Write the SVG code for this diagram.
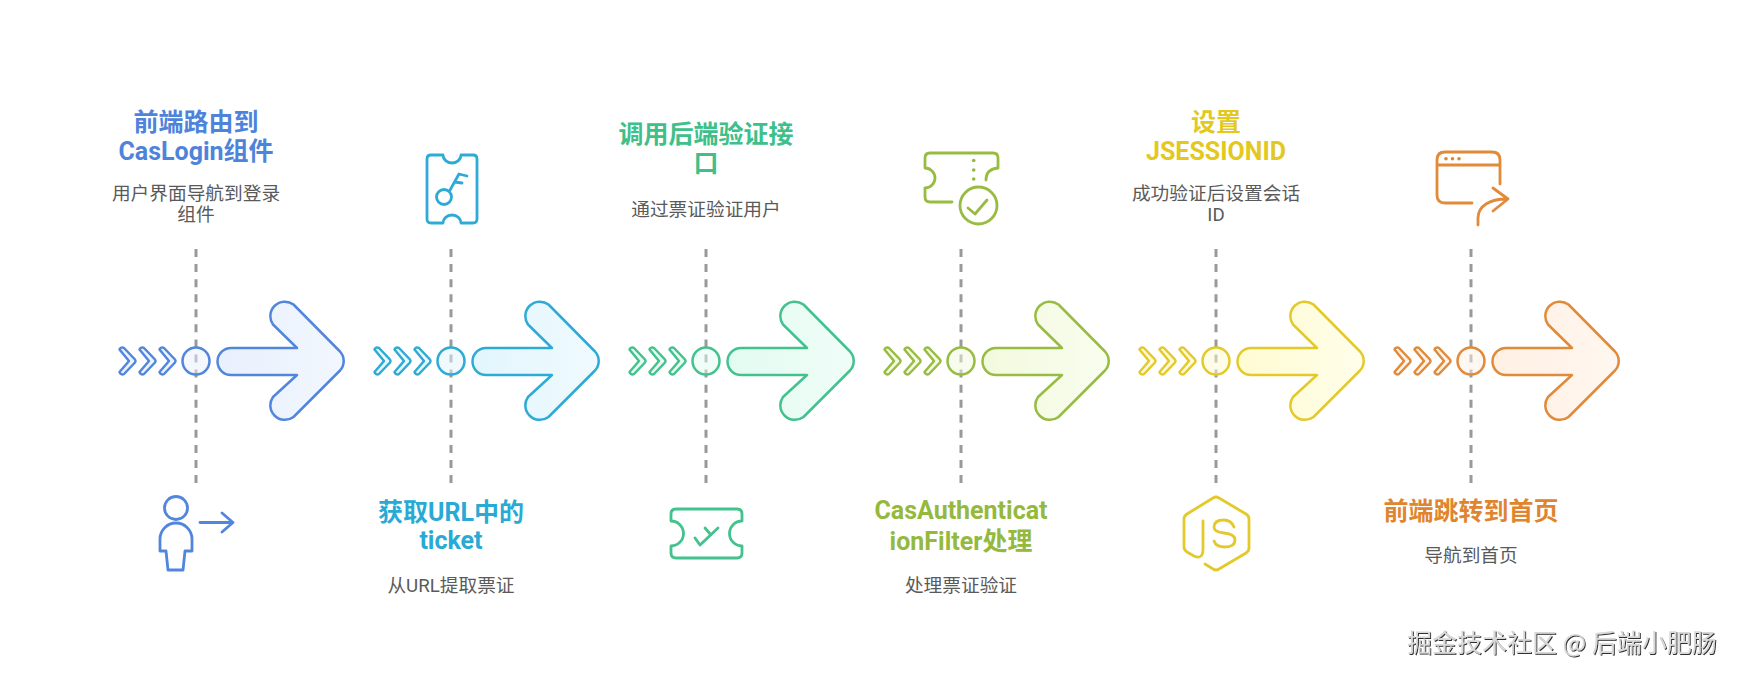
<svg xmlns="http://www.w3.org/2000/svg" width="1738" height="678" viewBox="0 0 1738 678">
<style>
text{text-anchor:middle;font-family:Roboto,"Noto Sans CJK SC",sans-serif}
.t{font-size:25px;font-weight:700}
.d{font-size:18.7px;fill:#5a5a5a}
.dash{stroke:#999;stroke-width:3;stroke-dasharray:8 7.07;fill:none}
.s{fill:none;stroke-width:2.8;stroke-linecap:round;stroke-linejoin:round}
.m{stroke-width:2.5;stroke-linejoin:round}
.wm{font-size:25px;fill:#d8d8d8;filter:url(#em);text-anchor:start;font-family:"Noto Sans CJK SC",sans-serif}
.c1{stroke:#5286dd}.f1{fill:#4e83dc}
.c2{stroke:#2dabd6}.f2{fill:#29aad4}
.c3{stroke:#43c28e}.f3{fill:#3dc08a}
.c4{stroke:#98bc42}.f4{fill:#94b93c}
.c5{stroke:#e3ca2a}.f5{fill:#e3c81e}
.c6{stroke:#e08a3a}.f6{fill:#e0852f}
</style>
<defs>
<filter id="em" x="-5%" y="-20%" width="110%" height="140%"><feDropShadow dx="1" dy="1" stdDeviation="0.5" flood-color="#2e2e2e"/></filter>
<linearGradient id="g1"><stop offset="0" stop-color="#e9f0fd"/><stop offset="1" stop-color="#f2f7fe"/></linearGradient>
<linearGradient id="g2"><stop offset="0" stop-color="#e2f6fd"/><stop offset="1" stop-color="#effafe"/></linearGradient>
<linearGradient id="g3"><stop offset="0" stop-color="#e2fbf1"/><stop offset="1" stop-color="#f0fdf8"/></linearGradient>
<linearGradient id="g4"><stop offset="0" stop-color="#f2fadd"/><stop offset="1" stop-color="#f9fdef"/></linearGradient>
<linearGradient id="g5"><stop offset="0" stop-color="#fffbd2"/><stop offset="1" stop-color="#fffeea"/></linearGradient>
<linearGradient id="g6"><stop offset="0" stop-color="#fff0e3"/><stop offset="1" stop-color="#fff7f0"/></linearGradient>
<path id="arrow" d="M231 348H297L273 324.500A14.500 14.500 0 0 1 293.500 304.500L340 351.500A14 14 0 0 1 340 370.500L293.500 417A14.500 14.500 0 0 1 273 397L297 375H231A13.500 13.500 0 0 1 231 348Z"/>
<path id="chev" d="M119.500 349.500A3 3 0 0 1 124 348L135 359.500A2.500 2.500 0 0 1 135 362.500L124 374A3 3 0 0 1 119.500 372L129 361Z"/>
<g id="mark">
<use href="#chev"/><use href="#chev" x="20"/><use href="#chev" x="40"/>
</g>
</defs>
<rect width="1738" height="678" fill="#ffffff"/>
<g id="connectors">
<path class="dash" d="M196 249V483"/>
<path class="dash" d="M451 249V483"/>
<path class="dash" d="M706 249V483"/>
<path class="dash" d="M961 249V483"/>
<path class="dash" d="M1216 249V483"/>
<path class="dash" d="M1471 249V483"/>
</g>

<g id="node-1">
<g class="m c1"><use href="#mark" fill="#edf3fd"/><circle cx="196" cy="361" r="13.500" fill="#e9f0fd" fill-opacity=".5"/><use href="#arrow" fill="url(#g1)"/></g>
<text class="t f1" x="196" y="131">前端路由到</text>
<text class="t f1" x="196" y="160">CasLogin组件</text>
<text class="d" x="196" y="199.500">用户界面导航到登录</text>
<text class="d" x="196" y="221">组件</text>
<g class="s c1"><circle cx="176" cy="508" r="11.500"/><path d="M168 570H183L185 551H192V539A16 16 0 0 0 160 539V551H166Z"/><path d="M200 522.500H233M222 513L233 522.500L222 532"/></g>
</g>

<g id="node-2">
<g transform="translate(255 0)" class="m c2"><use href="#mark" fill="#e8f8fd"/><circle cx="196" cy="361" r="13.500" fill="#e2f6fd" fill-opacity=".5"/><use href="#arrow" fill="url(#g2)"/></g>
<g class="s c2"><path d="M431 155H443A9 8 0 0 0 461 155H473Q477 155 477 159V219Q477 223 473 223H461A9 8 0 0 0 443 223H431Q427 223 427 219V159Q427 155 431 155Z"/><circle cx="444" cy="197" r="7.500"/><path d="M449.500 191L459 174L467 176M454.500 182L462 183"/></g>
<text class="t f2" x="451" y="521">获取URL中的</text>
<text class="t f2" x="451" y="549">ticket</text>
<text class="d" x="451" y="592">从URL提取票证</text>
</g>

<g id="node-3">
<g transform="translate(510 0)" class="m c3"><use href="#mark" fill="#e8fbf3"/><circle cx="196" cy="361" r="13.500" fill="#e2fbf1" fill-opacity=".5"/><use href="#arrow" fill="url(#g3)"/></g>
<text class="t f3" x="706" y="143">调用后端验证接</text>
<text class="t f3" x="706" y="172">口</text>
<text class="d" x="706" y="216">通过票证验证用户</text>
<g class="s c3"><path d="M676 509H737Q742 509 742 514V521A12.500 12.500 0 0 0 742 546V553Q742 558 737 558H676Q671 558 671 553V546A12.500 12.500 0 0 0 671 521V514Q671 509 676 509Z"/><path d="M695 538L700 545L718 528M705 528L711 535"/></g>
</g>

<g id="node-4">
<g transform="translate(765 0)" class="m c4"><use href="#mark" fill="#f4fae2"/><circle cx="196" cy="361" r="13.500" fill="#f2fadd" fill-opacity=".5"/><use href="#arrow" fill="url(#g4)"/></g>
<g class="s c4"><path d="M952 202H930Q925 202 925 197V188A10 10 0 0 0 925 168V158Q925 153 930 153H993Q998 153 998 158V168Q986 169 986 180"/><circle cx="978.500" cy="205.500" r="18.500"/><path d="M968 208L975 214L987 200"/></g>
<g class="f4"><circle cx="973.700" cy="160.500" r="1.800"/><circle cx="973.700" cy="170" r="1.800"/><circle cx="973.700" cy="179" r="1.800"/></g>
<text class="t f4" x="961" y="519">CasAuthenticat</text>
<text class="t f4" x="961" y="550">ionFilter处理</text>
<text class="d" x="961" y="592">处理票证验证</text>
</g>

<g id="node-5">
<g transform="translate(1020 0)" class="m c5"><use href="#mark" fill="#fffbd8"/><circle cx="196" cy="361" r="13.500" fill="#fffbd2" fill-opacity=".5"/><use href="#arrow" fill="url(#g5)"/></g>
<text class="t f5" x="1216" y="131">设置</text>
<text class="t f5" x="1216" y="160">JSESSIONID</text>
<text class="d" x="1216" y="199.500">成功验证后设置会话</text>
<text class="d" x="1216" y="221">ID</text>
<g class="s c5"><path d="M1203 521V549Q1203 560 1194 556L1187 552Q1184 550 1184 547V519Q1184 516 1187 514L1213 498Q1216 496 1219 498L1246 514Q1249 516 1249 519V548Q1249 551 1246 553L1219 569Q1216 571 1213 569L1205 564"/><path d="M1234 527Q1231 520 1224 520Q1214 520 1214 527Q1214 532 1224 533Q1235 534 1235 540Q1235 547 1225 547Q1216 547 1214 541"/></g>
</g>

<g id="node-6">
<g transform="translate(1275 0)" class="m c6"><use href="#mark" fill="#fff2e8"/><circle cx="196" cy="361" r="13.500" fill="#fff0e3" fill-opacity=".5"/><use href="#arrow" fill="url(#g6)"/></g>
<g class="s c6"><path d="M1500 184V160Q1500 152 1492 152H1445Q1437 152 1437 160V195Q1437 203 1445 203H1472M1437 165H1500"/><path d="M1478 225V218C1478 206 1490 199 1506 199M1493 188L1508 199L1493 211"/></g>
<g class="f6"><circle cx="1446" cy="158.700" r="1.800"/><circle cx="1452.500" cy="158.700" r="1.800"/><circle cx="1459" cy="158.700" r="1.800"/></g>
<text class="t f6" x="1471" y="520">前端跳转到首页</text>
<text class="d" x="1471" y="562">导航到首页</text>
</g>

<text class="wm" x="1407" y="652">掘金技术社区 @ 后端小肥肠</text>
</svg>
